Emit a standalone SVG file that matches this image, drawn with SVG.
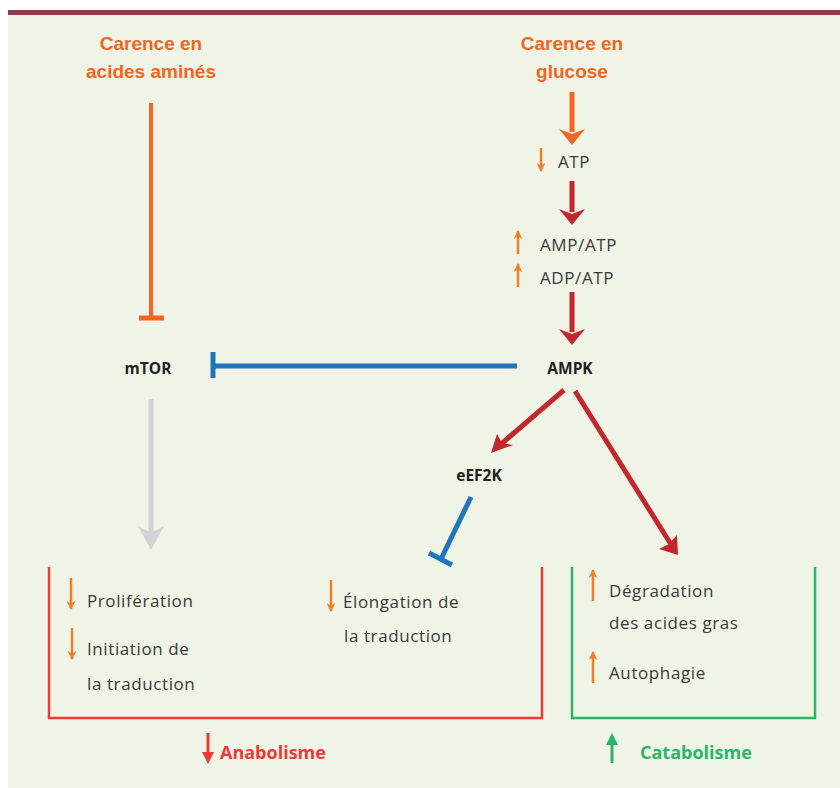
<svg xmlns="http://www.w3.org/2000/svg" width="840" height="788" viewBox="0 0 840 788">
<style>
.title{font-family:"Liberation Sans",Arial,sans-serif;font-weight:bold;font-size:19px;fill:#F26522;text-anchor:middle}
.node{font-family:"Open Sans","Liberation Sans",sans-serif;font-weight:bold;font-size:15.5px;fill:#231F20;text-anchor:middle}
.txt{font-family:"Open Sans","Liberation Sans",sans-serif;font-size:17px;fill:#3A3A3A;letter-spacing:0.6px}
.big{font-family:"Open Sans","Liberation Sans",sans-serif;font-weight:bold;font-size:18px}
.sm{stroke:#F07F2A;stroke-width:2.5;fill:none}
</style>
<defs>
<marker id="hs" viewBox="0 0 10 10" refX="9" refY="5" markerWidth="3.6" markerHeight="3.6" orient="auto" markerUnits="strokeWidth"><path d="M0,0 L10,5 L0,10 L3,5 z" fill="#F07F2A"/></marker>
</defs>
<rect x="0" y="0" width="840" height="788" fill="#ffffff"/>
<rect x="8" y="15" width="832" height="773" fill="#EFF4E6"/>
<rect x="8" y="10" width="832" height="5" fill="#8E3B48"/>

<g id="connectors">
  <line x1="151" y1="103" x2="151" y2="318" stroke="#F26522" stroke-width="4"/>
  <line x1="139" y1="318" x2="164" y2="318" stroke="#F26522" stroke-width="5"/>
  <line x1="572" y1="92" x2="572" y2="132" stroke="#F26522" stroke-width="5"/>
  <polygon points="559,129 572,145 585,129 572,134" fill="#F26522"/>
  <line x1="572" y1="181" x2="572" y2="212" stroke="#C1272D" stroke-width="5"/>
  <polygon points="559,209 572,225 585,209 572,214" fill="#C1272D"/>
  <line x1="572" y1="292" x2="572" y2="332" stroke="#C1272D" stroke-width="5"/>
  <polygon points="559,329 572,345 585,329 572,334" fill="#C1272D"/>
  <line x1="517" y1="366" x2="213" y2="366" stroke="#1F75BC" stroke-width="5"/>
  <line x1="213" y1="352" x2="213" y2="378" stroke="#1F75BC" stroke-width="5"/>
  <line x1="151" y1="399" x2="151" y2="535" stroke="#D1D3D4" stroke-width="5"/>
  <polygon points="138,526 151,550 164,526 151,533" fill="#D1D3D4"/>
  <line x1="564" y1="390" x2="500" y2="445" stroke="#C1272D" stroke-width="5"/>
  <polygon points="491,453 497,434 502,443 513,445" fill="#C1272D"/>
  <line x1="575" y1="391" x2="672" y2="546" stroke="#C1272D" stroke-width="5"/>
  <polygon points="678,555 659,549 669,544 677,535" fill="#C1272D"/>
  <line x1="471" y1="497" x2="441" y2="559" stroke="#1F75BC" stroke-width="5"/>
  <line x1="429" y1="553" x2="452" y2="565" stroke="#1F75BC" stroke-width="5"/>
</g>

<g id="carence-aa">
  <text class="title" x="151" y="50">Carence en</text>
  <text class="title" x="151" y="78">acides aminés</text>
</g>
<g id="carence-glucose">
  <text class="title" x="572" y="50">Carence en</text>
  <text class="title" x="572" y="78">glucose</text>
</g>
<g id="atp">
  <line class="sm" x1="541" y1="148" x2="541" y2="171" marker-end="url(#hs)"/>
  <text class="txt" x="558" y="168">ATP</text>
</g>
<g id="ratios">
  <line class="sm" x1="518" y1="254" x2="518" y2="231" marker-end="url(#hs)"/>
  <text class="txt" x="540" y="251">AMP/ATP</text>
  <line class="sm" x1="518" y1="287" x2="518" y2="264" marker-end="url(#hs)"/>
  <text class="txt" x="540" y="284">ADP/ATP</text>
</g>
<g id="mtor"><text class="node" x="148" y="374">mTOR</text></g>
<g id="ampk"><text class="node" x="570" y="374">AMPK</text></g>
<g id="eef2k"><text class="node" x="479" y="481">eEF2K</text></g>

<g id="anabolisme">
  <polyline points="49,567 49,718 542,718 542,567" fill="none" stroke="#EE3A36" stroke-width="2.5"/>
  <line class="sm" x1="71" y1="578" x2="71" y2="609" marker-end="url(#hs)"/>
  <text class="txt" x="87" y="607">Prolifération</text>
  <line class="sm" x1="72" y1="628" x2="72" y2="659" marker-end="url(#hs)"/>
  <text class="txt" x="87" y="655">Initiation de</text>
  <text class="txt" x="87" y="690">la traduction</text>
  <line class="sm" x1="331" y1="580" x2="331" y2="611" marker-end="url(#hs)"/>
  <text class="txt" x="343" y="608">Élongation de</text>
  <text class="txt" x="344" y="642">la traduction</text>
  <line x1="208" y1="733" x2="208" y2="755" stroke="#EE3A36" stroke-width="3"/>
  <polygon points="202,752 208,764 214,752" fill="#EE3A36"/>
  <text class="big" x="220" y="759" fill="#EE3A36">Anabolisme</text>
</g>

<g id="catabolisme">
  <polyline points="572,567 572,718 815,718 815,567" fill="none" stroke="#2BB567" stroke-width="2.5"/>
  <line class="sm" x1="593" y1="601" x2="593" y2="570" marker-end="url(#hs)"/>
  <text class="txt" x="609" y="597">Dégradation</text>
  <text class="txt" x="609" y="629">des acides gras</text>
  <line class="sm" x1="593" y1="683" x2="593" y2="652" marker-end="url(#hs)"/>
  <text class="txt" x="609" y="679">Autophagie</text>
  <line x1="612" y1="763" x2="612" y2="740" stroke="#2BB567" stroke-width="3"/>
  <polygon points="606,745 612,733 618,745" fill="#2BB567"/>
  <text class="big" x="640" y="759" fill="#2BB567">Catabolisme</text>
</g>
</svg>
